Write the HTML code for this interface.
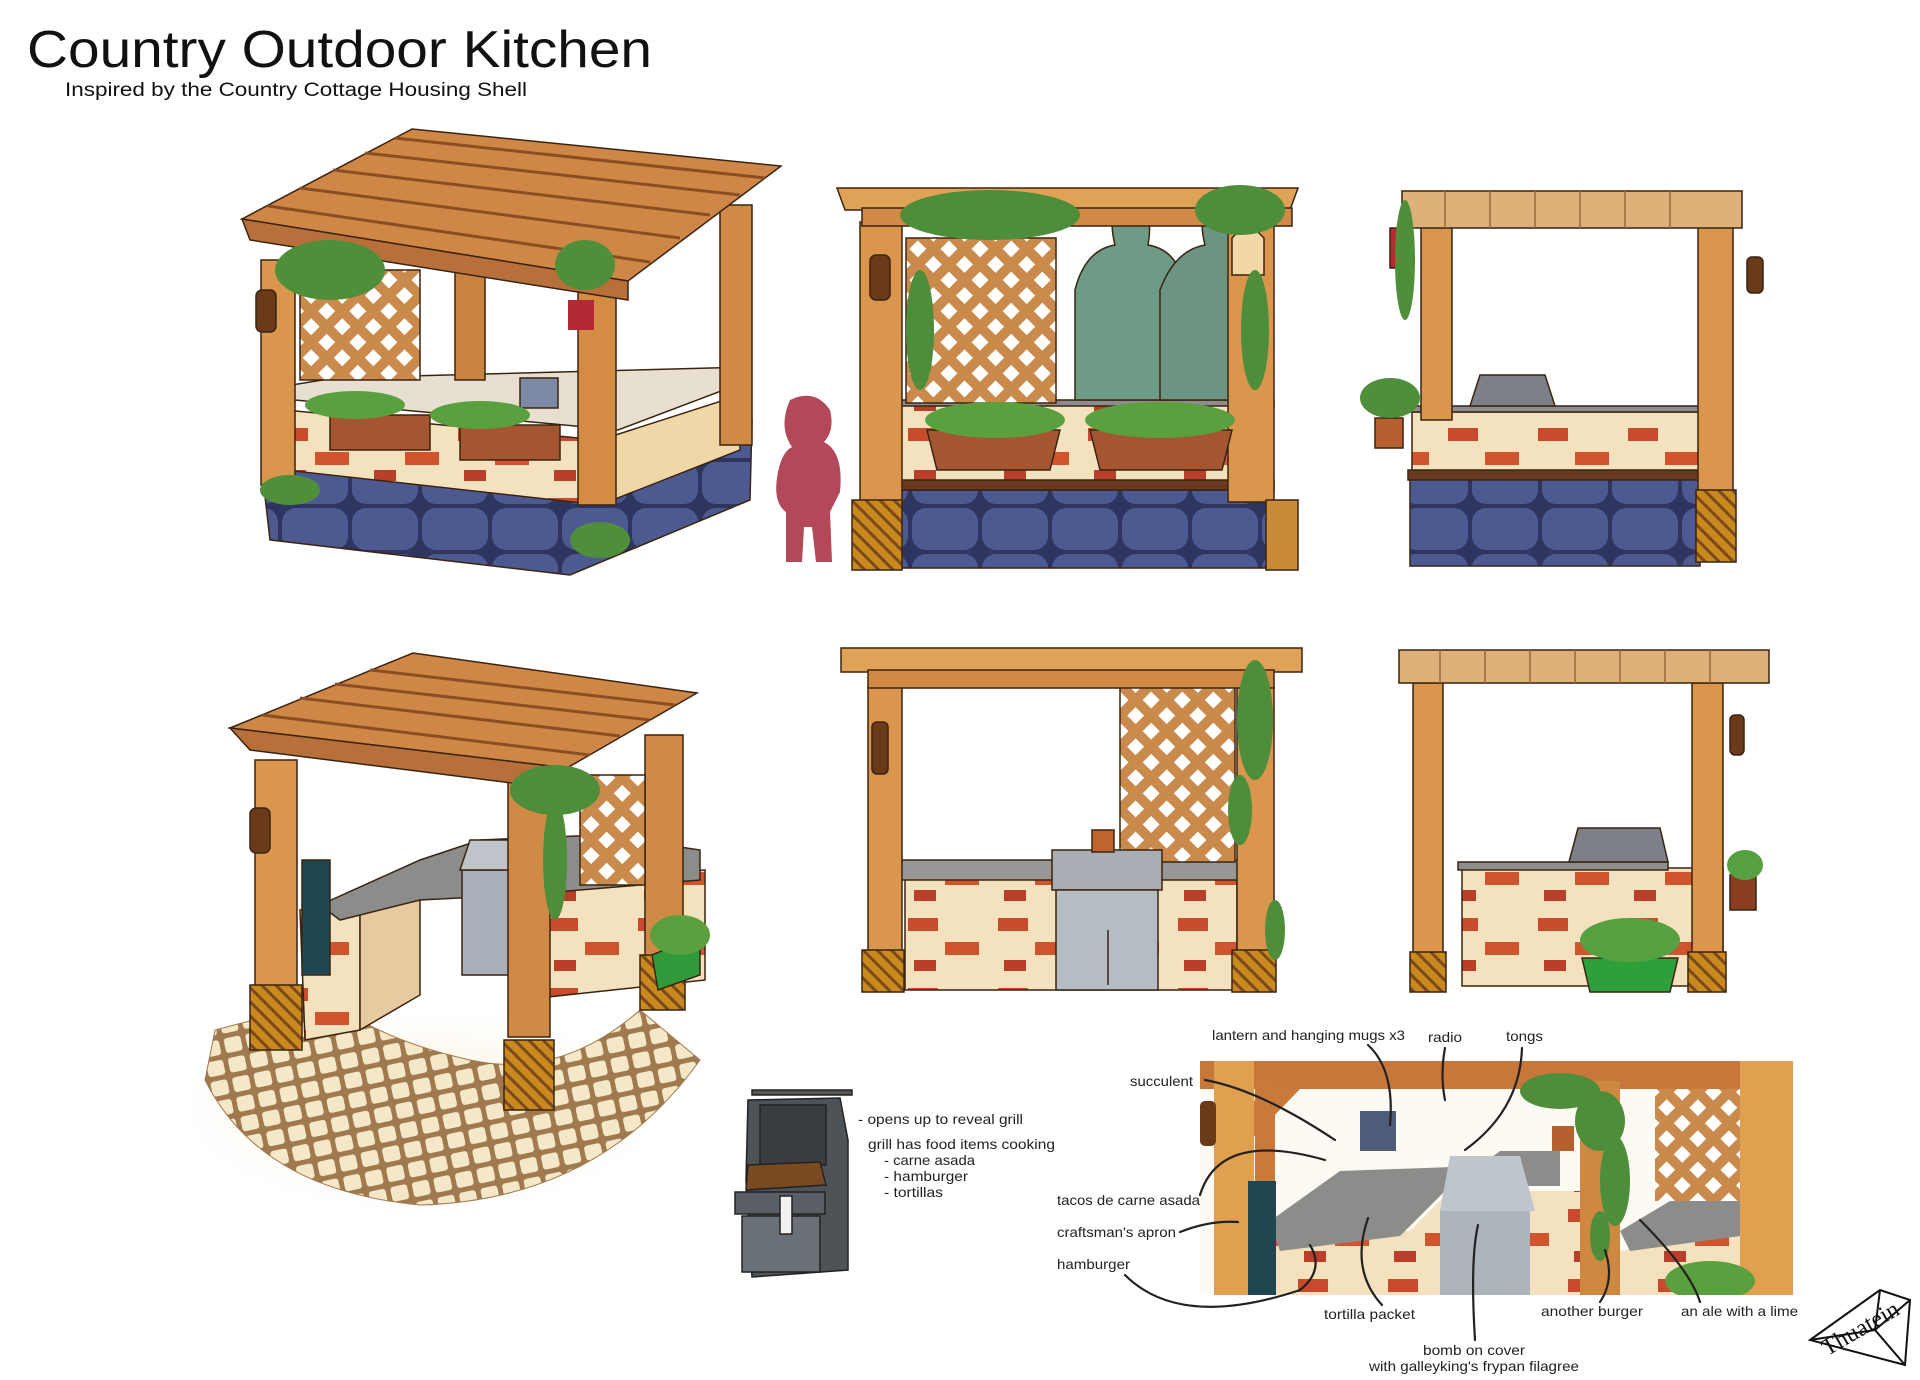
<!DOCTYPE html>
<html><head><meta charset="utf-8"><style>
html,body{margin:0;padding:0;background:#fff;}
svg{display:block}
.t{font-family:"Liberation Sans",sans-serif;fill:#111}
.l{font-family:"Liberation Sans",sans-serif;font-size:14px;fill:#222}
.ln{fill:none;stroke:#222;stroke-width:2.2;stroke-linecap:round}
</style></head><body>
<svg width="1920" height="1380" viewBox="0 0 1920 1380" xmlns="http://www.w3.org/2000/svg">
<defs>
<pattern id="lat" width="22" height="22" patternUnits="userSpaceOnUse" patternTransform="rotate(45)">
<rect width="22" height="22" fill="#c98a4c"/><rect x="5" y="5" width="12" height="12" fill="#fff"/>
</pattern>
<pattern id="stone" width="70" height="46" patternUnits="userSpaceOnUse">
<rect width="70" height="46" fill="#2e3660"/><rect x="2" y="2" width="66" height="42" rx="14" fill="#4d5a92"/>
</pattern>
<pattern id="brick" width="90" height="70" patternUnits="userSpaceOnUse">
<rect width="90" height="70" fill="#f4e1bd"/><rect x="8" y="8" width="30" height="13" fill="#c94a2c"/><rect x="45" y="32" width="34" height="13" fill="#d0552e"/><rect x="14" y="50" width="22" height="11" fill="#b8402a"/>
</pattern>
<pattern id="tile" width="22" height="20" patternUnits="userSpaceOnUse" patternTransform="rotate(-12)">
<rect width="22" height="20" fill="#a07a4e"/><rect x="2.5" y="2.5" width="17" height="15" rx="3" fill="#f4e8c8"/>
</pattern>
<radialGradient id="glow" cx="0.5" cy="0.5" r="0.5"><stop offset="0" stop-color="#f3d9a0" stop-opacity="0.8"/><stop offset="1" stop-color="#fff" stop-opacity="0"/></radialGradient>
<pattern id="base" width="10" height="10" patternUnits="userSpaceOnUse" patternTransform="rotate(45)">
<rect width="10" height="10" fill="#c9891e"/><rect width="10" height="3" fill="#7a4a18"/>
</pattern>
</defs>

<text class="t" x="27" y="67" font-size="52" textLength="625" lengthAdjust="spacingAndGlyphs">Country Outdoor Kitchen</text>
<text class="t" x="65" y="96" font-size="19" textLength="462" lengthAdjust="spacingAndGlyphs">Inspired by the Country Cottage Housing Shell</text>

<!-- Panel 1 -->
<g stroke="#3a2410" stroke-width="1.5">
<polygon points="262,470 270,540 570,575 750,500 752,420 610,500 265,455" fill="url(#stone)"/>
<polygon points="285,410 600,440 600,505 285,470" fill="url(#brick)"/>
<polygon points="600,440 740,395 740,450 600,505" fill="#f0d7a8"/>
<polygon points="273,388 335,378 748,367 745,382 618,430 273,398" fill="#e7dfcf"/>
<rect x="261" y="260" width="34" height="225" fill="#d9964c"/>
<rect x="578" y="270" width="38" height="235" fill="#d48c45"/>
<rect x="720" y="205" width="32" height="240" fill="#d08a45"/>
<rect x="455" y="270" width="30" height="110" fill="#c9843f"/>
<rect x="300" y="270" width="120" height="110" fill="url(#lat)"/>
<polygon points="242,219 412,129 781,166 628,281" fill="#cf8747"/>
<g stroke="#8a4e22" stroke-width="3"><line x1="268" y1="206" x2="650" y2="262"/><line x1="300" y1="188" x2="680" y2="238"/><line x1="333" y1="170" x2="710" y2="215"/><line x1="365" y1="153" x2="740" y2="195"/><line x1="395" y1="138" x2="765" y2="178"/></g>
<polygon points="242,219 628,281 628,300 250,240" fill="#b8703a"/>
<rect x="330" y="415" width="100" height="35" fill="#a5552f"/><rect x="460" y="425" width="100" height="35" fill="#a5552f"/>
<rect x="520" y="378" width="38" height="30" fill="#7d8aa6"/>
<rect x="256" y="290" width="20" height="42" rx="6" fill="#6a3a1a"/>
</g>
<g fill="#4f8f3a"><ellipse cx="330" cy="270" rx="55" ry="30"/><ellipse cx="355" cy="405" rx="50" ry="14" fill="#59a03e"/><ellipse cx="480" cy="415" rx="50" ry="14" fill="#59a03e"/><ellipse cx="585" cy="265" rx="30" ry="25"/><ellipse cx="290" cy="490" rx="30" ry="15"/><ellipse cx="600" cy="540" rx="30" ry="18"/></g>
<rect x="568" y="300" width="26" height="30" fill="#b32a32"/>
<path d="M790,400 q25,-12 40,10 q5,20 -6,32 q20,10 16,50 l-10,20 l2,50 l-16,0 l-4,-35 l-8,0 l-2,35 l-16,0 l0,-50 q-14,-10 -8,-40 q4,-20 14,-25 q-14,-20 -2,-47z" fill="#b24858"/>

<!-- Panel 3 -->
<g stroke="#3a2410" stroke-width="1.5">
<rect x="898" y="490" width="374" height="78" fill="url(#stone)"/>
<rect x="892" y="402" width="380" height="88" fill="url(#brick)"/>
<rect x="890" y="480" width="384" height="10" fill="#6b3a1e"/>
<rect x="882" y="400" width="392" height="6" fill="#8d8d8d"/>
<rect x="906" y="238" width="150" height="165" fill="url(#lat)"/>
<path d="M1075,400 l0,-110 q10,-40 40,-45 q-10,-40 15,-45 q25,5 18,45 q30,5 35,40 l0,115z" fill="#6e9a86"/>
<path d="M1160,400 l0,-110 q15,-40 45,-45 q-10,-40 15,-45 q25,5 18,45 q25,10 30,40 l0,115z" fill="#6b9483"/>
<rect x="860" y="222" width="42" height="280" fill="#d9964c"/>
<rect x="1228" y="222" width="46" height="280" fill="#d9964c"/>
<rect x="852" y="500" width="50" height="70" fill="url(#base)"/>
<rect x="1266" y="500" width="32" height="70" fill="#c98a3a"/>
<polygon points="837,188 1298,188 1290,210 845,210" fill="#e0a257"/>
<rect x="862" y="208" width="430" height="18" fill="#d08a45"/>
<polygon points="927,430 1060,430 1050,470 937,470" fill="#a5552f"/>
<polygon points="1090,430 1232,430 1222,470 1100,470" fill="#a5552f"/>
<rect x="870" y="255" width="20" height="45" rx="6" fill="#6a3a1a"/>
<polygon points="1232,238 1248,222 1264,238 1264,275 1232,275" fill="#f1d8a6"/>
</g>
<g fill="#4e8e3a"><ellipse cx="990" cy="215" rx="90" ry="25"/><ellipse cx="1240" cy="210" rx="45" ry="25"/><ellipse cx="995" cy="420" rx="70" ry="18" fill="#5aa03e"/><ellipse cx="1160" cy="420" rx="75" ry="18" fill="#5aa03e"/><ellipse cx="920" cy="330" rx="14" ry="60"/><ellipse cx="1255" cy="330" rx="14" ry="60"/></g>

<!-- Panel 4 -->
<g stroke="#3a2410" stroke-width="1.5">
<rect x="1410" y="478" width="290" height="88" fill="url(#stone)"/>
<rect x="1412" y="412" width="288" height="60" fill="url(#brick)"/>
<rect x="1408" y="470" width="295" height="10" fill="#6b3a1e"/>
<rect x="1408" y="406" width="295" height="6" fill="#8d8d8d"/>
<polygon points="1470,406 1480,375 1545,375 1555,406" fill="#7d8088"/>
<rect x="1421" y="220" width="31" height="200" fill="#d9964c"/>
<rect x="1698" y="220" width="35" height="320" fill="#d9964c"/>
<rect x="1696" y="490" width="40" height="72" fill="url(#base)"/>
<rect x="1402" y="191" width="340" height="37" fill="#deb07a"/>
<g stroke="#9a6a3a"><line x1="1445" y1="191" x2="1445" y2="228"/><line x1="1490" y1="191" x2="1490" y2="228"/><line x1="1535" y1="191" x2="1535" y2="228"/><line x1="1580" y1="191" x2="1580" y2="228"/><line x1="1625" y1="191" x2="1625" y2="228"/><line x1="1670" y1="191" x2="1670" y2="228"/></g>
<rect x="1390" y="228" width="22" height="40" fill="#b82a30"/>
<rect x="1747" y="257" width="16" height="36" rx="5" fill="#6a3a1a"/>
<rect x="1375" y="418" width="28" height="30" fill="#b5602e"/>
</g>
<g fill="#4f8f3a"><ellipse cx="1390" cy="398" rx="30" ry="20"/><ellipse cx="1405" cy="260" rx="10" ry="60"/></g>

<!-- Panel 5 -->
<ellipse cx="420" cy="1110" rx="260" ry="110" fill="url(#glow)"/>
<path d="M205,1080 Q260,1190 420,1205 Q600,1200 700,1060 L640,1010 Q560,1080 470,1060 Q380,1040 330,1000 L215,1030 Z" fill="url(#tile)" stroke="#a07a4e"/>
<g stroke="#3a2410" stroke-width="1.5">
<polygon points="300,910 360,905 360,1030 305,1040" fill="url(#brick)"/>
<polygon points="360,890 420,880 420,995 360,1030" fill="#e8caa0"/>
<polygon points="520,880 705,870 705,980 520,1000" fill="url(#brick)"/>
<polygon points="320,905 420,860 480,840 600,835 700,850 700,880 520,895 420,900 340,920" fill="#8c8c8a"/>
<rect x="462" y="870" width="70" height="105" fill="#a8afb8"/>
<polygon points="460,870 470,840 525,840 535,870" fill="#bfc4ca"/>
<rect x="255" y="760" width="42" height="230" fill="#d9964c"/>
<rect x="508" y="772" width="42" height="265" fill="#d08a45"/>
<rect x="645" y="735" width="38" height="230" fill="#d08a45"/>
<rect x="580" y="775" width="65" height="110" fill="url(#lat)"/>
<rect x="250" y="985" width="52" height="65" fill="url(#base)"/>
<rect x="504" y="1040" width="50" height="70" fill="url(#base)"/>
<rect x="640" y="955" width="45" height="55" fill="url(#base)"/>
<polygon points="230,728 413,653 697,693 567,768" fill="#cf8747"/>
<g stroke="#8a4e22" stroke-width="3"><line x1="262" y1="715" x2="590" y2="755"/><line x1="300" y1="698" x2="620" y2="736"/><line x1="335" y1="684" x2="650" y2="720"/><line x1="370" y1="670" x2="675" y2="705"/></g>
<polygon points="230,728 567,768 567,790 250,750" fill="#b8703a"/>
<rect x="302" y="860" width="28" height="115" fill="#1f4752"/>
<rect x="250" y="808" width="20" height="45" rx="6" fill="#6a3a1a"/>
<polygon points="652,955 700,935 700,975 658,990" fill="#2e9a3a"/>
</g>
<g fill="#4e8e3a"><ellipse cx="555" cy="790" rx="45" ry="25"/><ellipse cx="555" cy="860" rx="12" ry="60"/><ellipse cx="680" cy="935" rx="30" ry="20" fill="#5aa03e"/></g>

<!-- Panel 6 -->
<g stroke="#3a2410" stroke-width="1.5">
<rect x="905" y="870" width="332" height="120" fill="url(#brick)"/>
<rect x="900" y="860" width="340" height="20" fill="#979895"/>
<rect x="1120" y="686" width="115" height="176" fill="url(#lat)"/>
<rect x="1052" y="850" width="110" height="40" fill="#a9aeb5"/>
<rect x="1056" y="890" width="102" height="100" fill="#b6bcc4"/>
<line x1="1108" y1="930" x2="1108" y2="985"/>
<rect x="868" y="686" width="34" height="268" fill="#d9964c"/>
<rect x="1237" y="686" width="37" height="268" fill="#d9964c"/>
<rect x="862" y="950" width="42" height="42" fill="url(#base)"/>
<rect x="1232" y="950" width="44" height="42" fill="url(#base)"/>
<rect x="841" y="648" width="461" height="24" fill="#e0a257"/>
<rect x="868" y="670" width="406" height="18" fill="#d08a45"/>
<rect x="872" y="722" width="16" height="52" rx="5" fill="#6a3a1a"/>
<rect x="1092" y="830" width="22" height="22" fill="#c0642e"/>
</g>
<g fill="#4e8e3a"><ellipse cx="1255" cy="720" rx="18" ry="60"/><ellipse cx="1240" cy="810" rx="12" ry="35"/><ellipse cx="1275" cy="930" rx="10" ry="30"/></g>

<!-- Panel 7 -->
<g stroke="#3a2410" stroke-width="1.5">
<rect x="1462" y="868" width="261" height="118" fill="url(#brick)"/>
<rect x="1458" y="862" width="210" height="8" fill="#8d8d8d"/>
<polygon points="1569,862 1578,828 1660,828 1668,862" fill="#7d8088"/>
<rect x="1413" y="683" width="30" height="275" fill="#d9964c"/>
<rect x="1692" y="683" width="31" height="275" fill="#d9964c"/>
<rect x="1410" y="952" width="36" height="40" fill="url(#base)"/>
<rect x="1688" y="952" width="38" height="40" fill="url(#base)"/>
<rect x="1399" y="650" width="370" height="33" fill="#deb07a"/>
<g stroke="#9a6a3a"><line x1="1440" y1="650" x2="1440" y2="683"/><line x1="1485" y1="650" x2="1485" y2="683"/><line x1="1530" y1="650" x2="1530" y2="683"/><line x1="1575" y1="650" x2="1575" y2="683"/><line x1="1620" y1="650" x2="1620" y2="683"/><line x1="1665" y1="650" x2="1665" y2="683"/><line x1="1710" y1="650" x2="1710" y2="683"/></g>
<polygon points="1582,958 1678,958 1670,992 1590,992" fill="#2ea03a"/>
<rect x="1730" y="715" width="14" height="40" rx="5" fill="#6a3a1a"/>
<rect x="1730" y="875" width="26" height="35" fill="#8a4020"/>
</g>
<g fill="#55a040"><ellipse cx="1630" cy="940" rx="50" ry="22"/><ellipse cx="1745" cy="865" rx="18" ry="15"/></g>

<!-- Grill -->
<g stroke="#222" stroke-width="1.5">
<rect x="752" y="1090" width="100" height="5" fill="#555"/>
<polygon points="748,1100 840,1098 848,1140 848,1270 752,1277 746,1180" fill="#4e5358"/>
<rect x="760" y="1105" width="66" height="60" fill="#3a3e43"/>
<polygon points="748,1165 820,1162 826,1185 746,1190" fill="#7a4a20"/>
<rect x="735" y="1192" width="90" height="22" fill="#5a5f66"/>
<rect x="742" y="1216" width="78" height="56" fill="#6a7078"/>
<rect x="780" y="1196" width="12" height="38" fill="#f2f2f2"/>
</g>
<text class="l" x="858" y="1124" textLength="165" lengthAdjust="spacingAndGlyphs">- opens up to reveal grill</text>
<text class="l" x="868" y="1149" textLength="187" lengthAdjust="spacingAndGlyphs">grill has food items cooking</text>
<text class="l" x="884" y="1165" textLength="91" lengthAdjust="spacingAndGlyphs">- carne asada</text>
<text class="l" x="884" y="1181" textLength="84" lengthAdjust="spacingAndGlyphs">- hamburger</text>
<text class="l" x="884" y="1197" textLength="59" lengthAdjust="spacingAndGlyphs">- tortillas</text>

<!-- Detail panel -->
<svg x="1200" y="1061" width="593" height="234" viewBox="0 0 593 234">
<rect width="593" height="234" fill="#fdfaf4"/>
<polygon points="40,175 210,170 250,130 400,130 400,234 40,234" fill="url(#brick)"/>
<polygon points="420,190 560,170 560,234 420,234" fill="url(#brick)"/>
<polygon points="70,160 140,110 280,105 300,90 360,90 360,125 250,125 200,175 80,190" fill="#8c8c8a"/>
<polygon points="420,170 470,140 560,140 540,175 430,190" fill="#8c8c8a"/>
<rect x="240" y="150" width="90" height="84" fill="#aeb4bc"/>
<polygon points="240,150 250,95 320,95 335,150" fill="#bfc5cc"/>
<rect x="455" y="20" width="110" height="120" fill="url(#lat)"/>
<rect x="0" y="0" width="593" height="28" fill="#c8773a"/>
<polygon points="60,28 100,28 40,90 40,70" fill="#c97a3a"/>
<rect x="14" y="0" width="40" height="234" fill="#e0a050"/>
<rect x="55" y="20" width="20" height="214" fill="#c97a3a"/>
<rect x="380" y="20" width="40" height="214" fill="#cf8840"/>
<rect x="540" y="0" width="53" height="234" fill="#e0a050"/>
<rect x="48" y="120" width="28" height="114" fill="#1f4752"/>
<rect x="0" y="40" width="16" height="45" rx="5" fill="#6a3a1a"/>
<rect x="160" y="50" width="36" height="40" fill="#4e5c7a"/>
<g fill="#4e8e3a"><ellipse cx="360" cy="30" rx="40" ry="18"/><ellipse cx="400" cy="60" rx="25" ry="30"/><ellipse cx="415" cy="120" rx="15" ry="45"/><ellipse cx="400" cy="175" rx="10" ry="25"/></g>
<rect x="352" y="65" width="22" height="25" fill="#b5602e"/>
<ellipse cx="510" cy="220" rx="45" ry="20" fill="#5aa03e"/>
</svg>

<text class="l" x="1212" y="1040" textLength="193" lengthAdjust="spacingAndGlyphs">lantern and hanging mugs x3</text>
<text class="l" x="1428" y="1042" textLength="34" lengthAdjust="spacingAndGlyphs">radio</text>
<text class="l" x="1506" y="1041" textLength="37" lengthAdjust="spacingAndGlyphs">tongs</text>
<text class="l" x="1130" y="1086" textLength="63" lengthAdjust="spacingAndGlyphs">succulent</text>
<text class="l" x="1057" y="1205" textLength="143" lengthAdjust="spacingAndGlyphs">tacos de carne asada</text>
<text class="l" x="1057" y="1237" textLength="119" lengthAdjust="spacingAndGlyphs">craftsman's apron</text>
<text class="l" x="1057" y="1269" textLength="73" lengthAdjust="spacingAndGlyphs">hamburger</text>
<text class="l" x="1324" y="1319" textLength="91" lengthAdjust="spacingAndGlyphs">tortilla packet</text>
<text class="l" x="1541" y="1316" textLength="102" lengthAdjust="spacingAndGlyphs">another burger</text>
<text class="l" x="1681" y="1316" textLength="117" lengthAdjust="spacingAndGlyphs">an ale with a lime</text>
<text class="l" x="1423" y="1355" textLength="102" lengthAdjust="spacingAndGlyphs">bomb on cover</text>
<text class="l" x="1369" y="1371" textLength="210" lengthAdjust="spacingAndGlyphs">with galleyking's frypan filagree</text>

<path class="ln" d="M1368,1045 Q1395,1070 1390,1125"/>
<path class="ln" d="M1445,1048 Q1440,1075 1445,1100"/>
<path class="ln" d="M1522,1048 Q1520,1110 1465,1150"/>
<path class="ln" d="M1205,1080 Q1260,1090 1335,1140"/>
<path class="ln" d="M1200,1195 Q1220,1130 1325,1160"/>
<path class="ln" d="M1180,1232 Q1210,1220 1238,1222"/>
<path class="ln" d="M1125,1275 Q1180,1330 1300,1290 Q1325,1270 1310,1245"/>
<path class="ln" d="M1382,1305 Q1350,1270 1368,1218"/>
<path class="ln" d="M1475,1340 Q1470,1260 1478,1225"/>
<path class="ln" d="M1600,1302 Q1615,1280 1605,1250"/>
<path class="ln" d="M1700,1302 Q1690,1270 1640,1220"/>

<g fill="none" stroke="#111" stroke-width="2">
<polygon points="1810,1340 1880,1290 1910,1300 1905,1365"/>
<path d="M1810,1340 L1875,1330 L1905,1365 M1880,1290 L1875,1330 M1910,1300 L1875,1330"/>
<text x="1812" y="1340" font-family="Liberation Serif,serif" font-size="24" fill="#111" stroke="none" transform="rotate(-30 1850 1320)">Thuatein</text>
</g>
</svg>
</body></html>
